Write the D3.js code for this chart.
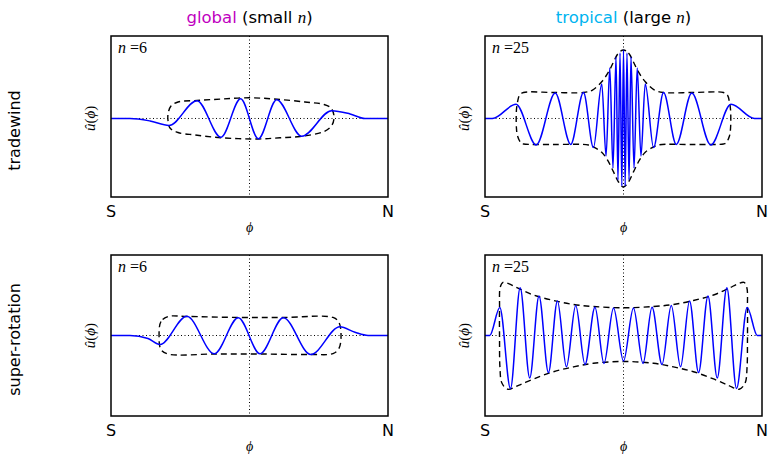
<!DOCTYPE html>
<html lang="en">
<head>
<meta charset="UTF-8">
<title>Wave envelopes</title>
<script src="https://d3js.org/d3.v7.min.js"></script>
<style>
  body { margin: 0; background: #fff; }
  svg { display: block; }
  .sans { font-family: "DejaVu Sans", sans-serif; }
  .math { font-family: "Liberation Serif", "DejaVu Serif", serif; }
</style>
</head>
<body>
<svg id="chart" width="770" height="455"></svg>
<script>
// ---- data (x: phi from S=-1 to N=1, y: u-hat) ----
const rowLabels = ["tradewind", "super-rotation"];
const colTitles = [["global", "#bf00bf", "small"], ["tropical", "#00b4f0", "large"]];
const nValues = [6, 25];
const xTickLabels = ["S", "N"];

// extrema of each wave (plus tail points)
const twGlobalCurve = [[-1.0,0],[-0.863,0],[-0.718,-0.03],[-0.581,-0.085],[-0.379,0.216],[-0.206,-0.228],[-0.064,0.24],[0.064,-0.245],[0.196,0.228],[0.377,-0.216],[0.594,0.095],[0.726,0.055],[0.834,0],[1.0,0]];
const twGlobalEnvelope = [[-0.574,-0.115],[-0.588,-0.03],[-0.588,0.055],[-0.567,0.152],[-0.516,0.2],[-0.379,0.218],[-0.199,0.236],[0.004,0.251],[0.199,0.233],[0.401,0.2],[0.538,0.17],[0.588,0.127],[0.610,0.03],[0.596,-0.079],[0.538,-0.158],[0.365,-0.218],[0.220,-0.234],[0.061,-0.248],[-0.206,-0.234],[-0.394,-0.2],[-0.516,-0.17]];

const twTropicalCurve = [[-1,0],[-0.946,0],[-0.776,0.172],[-0.630,-0.321],[-0.493,0.309],[-0.381,-0.315],[-0.289,0.315],[-0.217,-0.352],[-0.157,0.418],[-0.126,-0.455],[-0.099,0.612],[-0.076,-0.6],[-0.054,0.745],[-0.040,-0.745],[-0.025,0.794],[-0.012,-0.818],[0,0.830],[0.012,-0.818],[0.025,0.794],[0.040,-0.745],[0.054,0.745],[0.076,-0.6],[0.099,0.612],[0.126,-0.455],[0.157,0.418],[0.217,-0.352],[0.289,0.315],[0.381,-0.315],[0.493,0.309],[0.630,-0.321],[0.776,0.172],[0.946,0],[1,0]];
const twTropicalEnvelope = [[0,0.830],[0.036,0.794],[0.072,0.685],[0.108,0.564],[0.159,0.442],[0.224,0.345],[0.289,0.315],[0.505,0.315],[0.722,0.315],[0.750,0.285],[0.765,0.2],[0.773,0.103],[0.773,-0.115],[0.765,-0.212],[0.740,-0.297],[0.722,-0.309],[0.505,-0.315],[0.253,-0.321],[0.209,-0.352],[0.159,-0.406],[0.116,-0.503],[0.072,-0.648],[0.036,-0.770],[0,-0.830],[-0.036,-0.770],[-0.072,-0.648],[-0.116,-0.503],[-0.159,-0.406],[-0.209,-0.352],[-0.253,-0.321],[-0.505,-0.315],[-0.722,-0.309],[-0.740,-0.297],[-0.765,-0.212],[-0.773,-0.115],[-0.773,0.103],[-0.765,0.2],[-0.750,0.285],[-0.722,0.315],[-0.505,0.315],[-0.289,0.315],[-0.224,0.345],[-0.159,0.442],[-0.108,0.564],[-0.072,0.685],[-0.036,0.794]];

const srGlobalCurve = [[-1,0],[-0.863,0],[-0.733,-0.037],[-0.646,-0.112],[-0.453,0.24],[-0.254,-0.227],[-0.081,0.22],[0.076,-0.227],[0.244,0.22],[0.442,-0.236],[0.653,0.108],[0.762,0.04],[0.856,0],[1,0]];
const srGlobalEnvelope = [[-0.588,0.236],[-0.639,0.174],[-0.653,0],[-0.639,-0.174],[-0.588,-0.230],[-0.256,-0.230],[0.076,-0.230],[0.437,-0.236],[0.603,-0.224],[0.646,-0.161],[0.661,0],[0.646,0.161],[0.603,0.224],[0.242,0.224],[-0.083,0.224],[-0.451,0.236]];

const srTropicalCurve = [[-1,0],[-0.966,0],[-0.893,0.348],[-0.816,-0.658],[-0.746,0.593],[-0.677,-0.528],[-0.610,0.491],[-0.542,-0.460],[-0.477,0.429],[-0.412,-0.389],[-0.345,0.373],[-0.278,-0.360],[-0.206,0.350],[-0.141,-0.348],[-0.072,0.342],[0,-0.317],[0.072,0.342],[0.141,-0.348],[0.206,0.350],[0.278,-0.360],[0.345,0.373],[0.412,-0.389],[0.477,0.429],[0.542,-0.460],[0.610,0.491],[0.677,-0.528],[0.746,0.593],[0.816,-0.658],[0.893,0.348],[0.966,0],[1,0]];
const srTropicalEnvelope = [[0,0.344],[0.217,0.36],[0.361,0.385],[0.505,0.435],[0.650,0.503],[0.758,0.584],[0.830,0.645],[0.870,0.66],[0.890,0.6],[0.895,0.35],[0.895,-0.05],[0.892,-0.40],[0.878,-0.59],[0.835,-0.668],[0.758,-0.62],[0.650,-0.54],[0.505,-0.45],[0.361,-0.39],[0.217,-0.345],[0,-0.323],[-0.217,-0.345],[-0.361,-0.39],[-0.505,-0.45],[-0.650,-0.54],[-0.758,-0.62],[-0.835,-0.668],[-0.878,-0.59],[-0.892,-0.40],[-0.895,-0.05],[-0.895,0.35],[-0.890,0.6],[-0.870,0.66],[-0.830,0.645],[-0.758,0.584],[-0.650,0.503],[-0.505,0.435],[-0.361,0.385],[-0.217,0.36]];

const panels = [
  {row: 0, col: 0, curve: twGlobalCurve, env: twGlobalEnvelope},
  {row: 0, col: 1, curve: twTropicalCurve, env: twTropicalEnvelope},
  {row: 1, col: 0, curve: srGlobalCurve, env: srGlobalEnvelope},
  {row: 1, col: 1, curve: srTropicalCurve, env: srTropicalEnvelope}
];

// ---- layout ----
const colX = [111, 485], rowY = [36, 255];
const pw = 277, ph = 161;
const yDomains = [[-0.952, 1], [-1, 1]];

const svg = d3.select("#chart");

// column titles
colTitles.forEach(function (t, c) {
  const txt = svg.append("text")
    .attr("class", "sans")
    .attr("x", colX[c] + pw / 2)
    .attr("y", 23)
    .attr("text-anchor", "middle")
    .style("font-size", "16.5px");
  txt.append("tspan").attr("fill", t[1]).text(t[0]);
  txt.append("tspan").text(" (" + t[2] + " ");
  txt.append("tspan").attr("class", "math").style("font-style", "italic").style("font-size", "17px").text("n");
  txt.append("tspan").text(")");
});

// row labels
rowLabels.forEach(function (lab, r) {
  const cy = rowY[r] + ph / 2 + (r == 0 ? 14 : 4);
  svg.append("text")
    .attr("class", "sans")
    .attr("transform", "translate(20," + cy + ") rotate(-90)")
    .attr("text-anchor", "middle")
    .style("font-size", "16px")
    .text(lab);
});

panels.forEach(function (p) {
  const x = d3.scaleLinear().domain([-1, 1]).range([0, pw]);
  const y = d3.scaleLinear().domain(yDomains[p.row]).range([ph, 0]);
  const g = svg.append("g")
    .attr("transform", "translate(" + colX[p.col] + "," + rowY[p.row] + ")");

  // zero line and equator line (dotted)
  g.append("line")
    .attr("x1", 0).attr("x2", pw)
    .attr("y1", y(0)).attr("y2", y(0))
    .attr("stroke", "#000").attr("stroke-width", 1)
    .attr("stroke-dasharray", "1,2.5");
  g.append("line")
    .attr("x1", x(0)).attr("x2", x(0))
    .attr("y1", 0).attr("y2", ph)
    .attr("stroke", "#000").attr("stroke-width", 1)
    .attr("stroke-dasharray", "1,2.5");

  // envelope (dashed closed curve)
  const envLine = d3.line()
    .x(function (d) { return x(d[0]); })
    .y(function (d) { return y(d[1]); })
    .curve(d3.curveCatmullRomClosed.alpha(0.5));
  g.append("path")
    .attr("d", envLine(p.env))
    .attr("fill", "none")
    .attr("stroke", "#000")
    .attr("stroke-width", 1.4)
    .attr("stroke-dasharray", "6,4");

  // wave
  const waveLine = d3.line()
    .x(function (d) { return x(d[0]); })
    .y(function (d) { return y(d[1]); })
    .curve(d3.curveMonotoneX);
  g.append("path")
    .attr("d", waveLine(p.curve))
    .attr("fill", "none")
    .attr("stroke", "#0000ff")
    .attr("stroke-width", 1.5);

  // frame
  g.append("rect")
    .attr("width", pw).attr("height", ph)
    .attr("fill", "none")
    .attr("stroke", "#000").attr("stroke-width", 1.5);

  // n label
  const nl = g.append("text")
    .attr("class", "math")
    .attr("x", 7).attr("y", 17)
    .style("font-size", "16px");
  nl.append("tspan").style("font-style", "italic").text("n");
  nl.append("tspan").text(" =" + nValues[p.col]);

  // x ticks S / N
  g.selectAll(".xt")
    .data(xTickLabels)
    .enter()
    .append("text")
    .attr("class", "sans")
    .attr("x", function (d, i) { return i == 0 ? x(-1) : x(1); })
    .attr("y", ph + 20)
    .attr("text-anchor", "middle")
    .style("font-size", "16px")
    .text(function (d) { return d; });

  // x label
  g.append("text")
    .attr("class", "math")
    .attr("x", x(0)).attr("y", ph + 35)
    .attr("text-anchor", "middle")
    .style("font-size", "14px")
    .style("font-style", "italic")
    .text("\u03D5");

  // y label
  const yl = g.append("text")
    .attr("class", "math")
    .attr("transform", "translate(-16," + y(0) + ") rotate(-90)")
    .attr("text-anchor", "middle")
    .style("font-size", "15px");
  yl.append("tspan").style("font-style", "italic").text("\u00FB");
  yl.append("tspan").text("(");
  yl.append("tspan").style("font-style", "italic").text("\u03D5");
  yl.append("tspan").text(")");
});
</script>
</body>
</html>
